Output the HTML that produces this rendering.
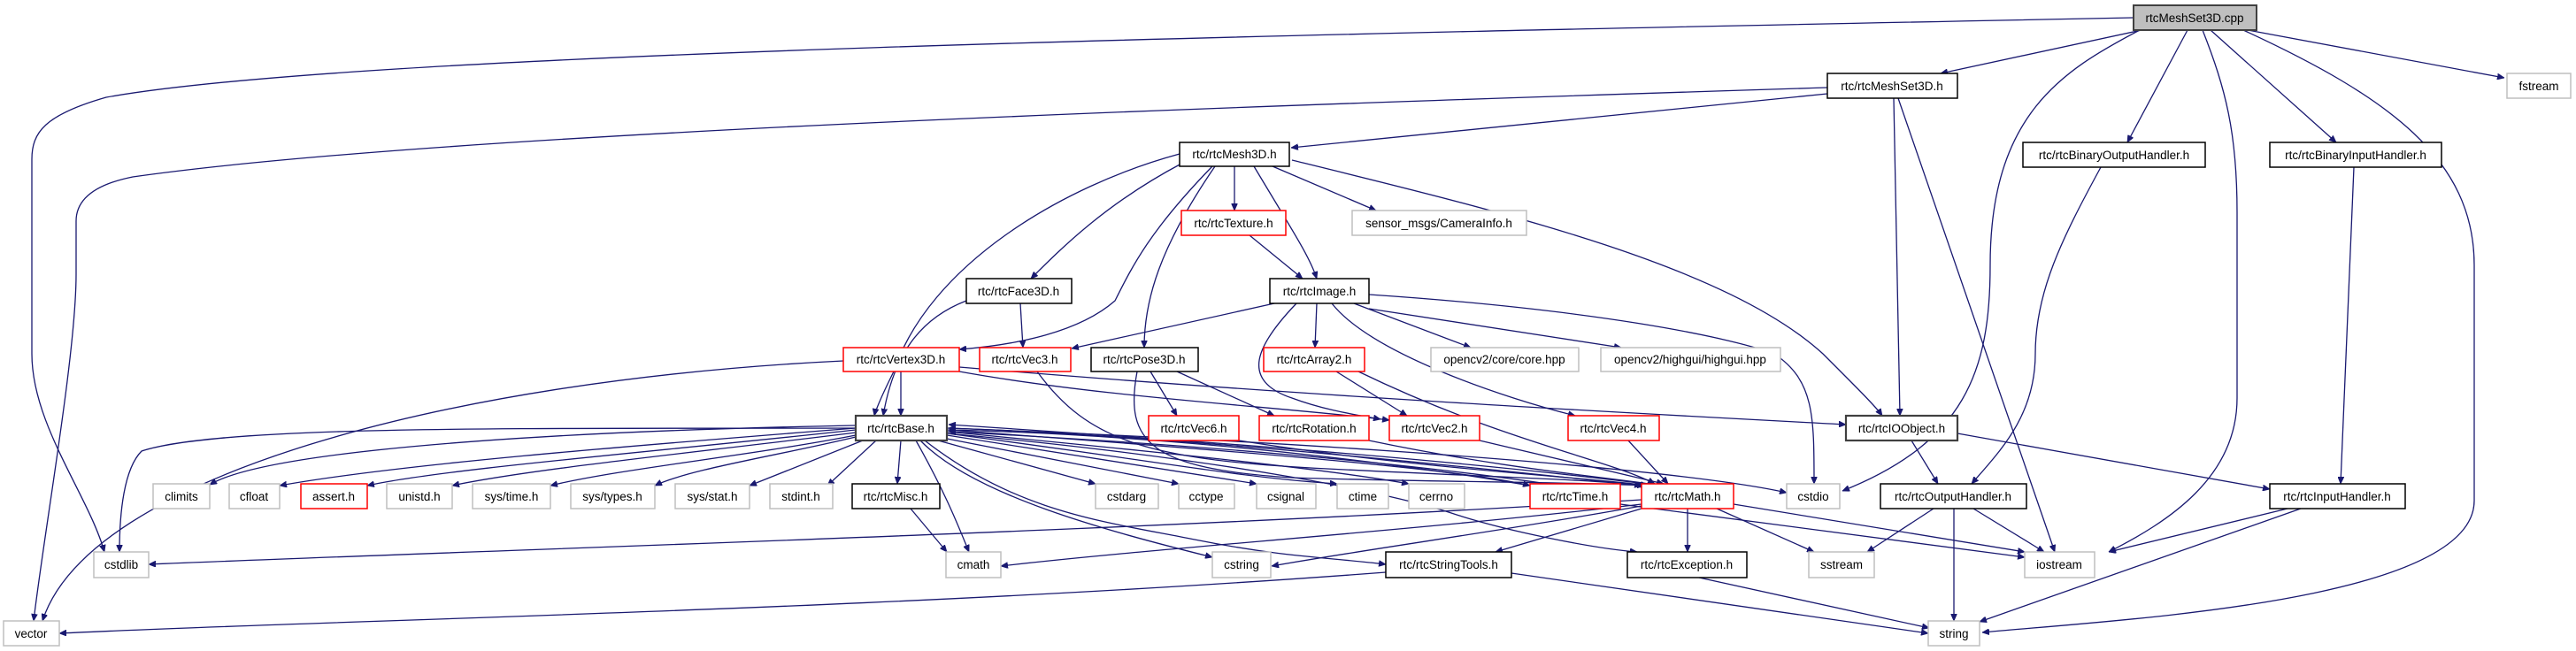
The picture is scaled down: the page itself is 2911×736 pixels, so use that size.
<!DOCTYPE html>
<html><head><meta charset="utf-8">
<style>
html,body{margin:0;padding:0;background:#fff;}
svg{display:block;}
text{font-family:"Liberation Sans",sans-serif;font-size:13.5px;text-anchor:middle;fill:#000;}
.n{fill:#fff;stroke:#000;stroke-width:1.5;}
.r{fill:#fff;stroke:#ff0000;stroke-width:1.5;}
.g{fill:#fff;stroke:#bfbfbf;stroke-width:1.5;}
.b{fill:#fff;stroke:#404040;stroke-width:2.2;}
.e{fill:none;stroke:#191970;stroke-width:1.3;marker-end:url(#a);}
</style></head><body>
<svg width="2911" height="736" viewBox="0 0 2911 736" xmlns="http://www.w3.org/2000/svg">
<defs><marker id="a" viewBox="0 0 10 10" refX="10" refY="5" markerWidth="8" markerHeight="7" markerUnits="userSpaceOnUse" orient="auto" preserveAspectRatio="none"><path d="M0,0L10,5L0,10z" fill="#191970" stroke="#191970"/></marker></defs>

<g>
<path class="e" d="M2411,20 C1400,40 400,60 120,110 C50,130 36,150 36,180 L36,400 C36,480 100,560 118,624"/>
<path class="e" d="M2420,34 L2193,83"/>
<path class="e" d="M2540,34 L2830,88"/>
<path class="e" d="M2472,34 L2404,161"/>
<path class="e" d="M2498,34 L2640,161"/>
<path class="e" d="M2418,34 C2330,80 2249,130 2249,300 C2249,420 2220,500 2082,555"/>
<path class="e" d="M2489,34 C2515,100 2528,150 2528,240 L2528,450 C2528,540 2450,590 2383,624"/>
<path class="e" d="M2535,34 C2700,110 2796,180 2796,300 L2796,566 C2796,680 2400,700 2240,715"/>
<path class="e" d="M2065,99 C1400,120 500,150 150,200 C100,210 86,230 86,250 L86,310 C86,400 50,600 38,702"/>
<path class="e" d="M2065,106 L1459,167"/>
<path class="e" d="M2140,111 L2147,470"/>
<path class="e" d="M2145,111 L2322,624"/>
<path class="e" d="M2374,189 C2330,270 2300,330 2300,400 C2300,470 2260,510 2228,547"/>
<path class="e" d="M2660,189 L2645,547"/>
<path class="e" d="M1395,188 L1395,238"/>
<path class="e" d="M1438,188 L1555,238"/>
<path class="e" d="M1417,188 C1460,260 1480,290 1488,315"/>
<path class="e" d="M1335,185 C1250,230 1200,280 1165,315"/>
<path class="e" d="M1333,174 C1200,210 1050,300 1010,420 C990,460 988,470 988,470"/>
<path class="e" d="M1370,188 C1300,260 1280,300 1260,340 C1220,375 1150,390 1084,395"/>
<path class="e" d="M1373,188 C1310,280 1293,340 1293,393"/>
<path class="e" d="M1460,181 C1700,240 1950,300 2060,400 C2100,440 2120,460 2127,470"/>
<path class="e" d="M1412,266 L1472,315"/>
<path class="e" d="M1092,340 C1040,360 1010,400 998,470"/>
<path class="e" d="M1153,343 L1156,393"/>
<path class="e" d="M1440,343 L1211,394"/>
<path class="e" d="M1488,343 L1486,393"/>
<path class="e" d="M1530,343 L1662,393"/>
<path class="e" d="M1547,349 L1832,393"/>
<path class="e" d="M1547,333 C1800,350 1950,380 2005,400 C2050,430 2050,470 2050,547"/>
<path class="e" d="M1465,343 C1420,390 1400,430 1460,450 C1500,465 1540,470 1560,474"/>
<path class="e" d="M1505,343 C1550,400 1700,450 1780,470"/>
<path class="e" d="M1018,420 L1018,470"/>
<path class="e" d="M953,408 C500,430 100,540 48,702"/>
<path class="e" d="M1084,420 C1250,450 1450,460 1570,475"/>
<path class="e" d="M1084,415 C1500,450 1900,470 2086,480"/>
<path class="e" d="M1172,420 C1230,500 1300,520 1500,530 C1700,540 1800,542 1855,549"/>
<path class="e" d="M1285,420 C1270,500 1300,530 1460,540 C1600,545 1800,545 1858,549"/>
<path class="e" d="M1300,420 L1330,470"/>
<path class="e" d="M1330,420 L1440,470"/>
<path class="e" d="M1510,420 L1590,470"/>
<path class="e" d="M1535,420 C1700,500 1820,520 1870,547"/>
<path class="e" d="M1400,498 C1600,530 1800,540 1862,549"/>
<path class="e" d="M1547,498 C1700,530 1820,540 1870,548"/>
<path class="e" d="M1672,498 L1880,547"/>
<path class="e" d="M1840,498 L1885,547"/>
<path class="e" d="M967,481 C600,488 300,510 237,548"/>
<path class="e" d="M967,484 C700,505 450,525 316,549"/>
<path class="e" d="M967,486 C750,510 500,530 415,549"/>
<path class="e" d="M967,489 C800,510 600,530 511,549"/>
<path class="e" d="M967,492 C850,515 700,530 622,549"/>
<path class="e" d="M967,494 C880,515 780,530 740,549"/>
<path class="e" d="M975,498 L847,549"/>
<path class="e" d="M990,498 L935,549"/>
<path class="e" d="M1018,498 L1014,547"/>
<path class="e" d="M967,484 C600,485 250,480 160,510 C140,530 135,580 135,624"/>
<path class="e" d="M1035,498 C1070,560 1085,600 1095,624"/>
<path class="e" d="M1040,498 C1100,560 1250,600 1370,630"/>
<path class="e" d="M1045,498 C1150,580 1250,590 1350,610 C1450,630 1500,630 1566,638"/>
<path class="e" d="M1060,498 L1238,547"/>
<path class="e" d="M1065,495 L1332,547"/>
<path class="e" d="M1070,492 L1420,547"/>
<path class="e" d="M1070,490 C1300,520 1400,540 1511,547"/>
<path class="e" d="M1070,488 C1300,510 1500,530 1592,547"/>
<path class="e" d="M1070,486 C1400,510 1650,530 1729,549"/>
<path class="e" d="M1070,484 C1500,500 1900,530 2019,557"/>
<path class="e" d="M1070,490 C1400,520 1580,560 1640,580 C1700,600 1800,620 1850,624"/>
<path class="e" d="M1855,549 C1500,510 1250,490 1072,484"/>
<path class="e" d="M1729,549 C1500,510 1250,490 1072,486"/>
<path class="e" d="M1860,547 C1600,515 1300,495 1072,480"/>
<path class="e" d="M1831,560 C1600,520 1300,500 1072,488"/>
<path class="e" d="M1029,575 L1070,624"/>
<path class="e" d="M1831,570 L2288,630"/>
<path class="e" d="M1855,565 C1300,600 600,620 168,638"/>
<path class="e" d="M1855,570 C1600,600 1300,620 1131,640"/>
<path class="e" d="M1855,572 C1700,600 1550,620 1437,640"/>
<path class="e" d="M1855,575 L1690,624"/>
<path class="e" d="M1907,575 L1907,624"/>
<path class="e" d="M1940,575 L2050,624"/>
<path class="e" d="M1959,570 L2288,624"/>
<path class="e" d="M1566,647 C1000,690 400,700 67,716"/>
<path class="e" d="M1708,648 L2179,716"/>
<path class="e" d="M1920,653 L2180,710"/>
<path class="e" d="M2160,498 L2190,547"/>
<path class="e" d="M2212,490 L2565,553"/>
<path class="e" d="M2185,575 L2110,624"/>
<path class="e" d="M2208,575 L2208,702"/>
<path class="e" d="M2230,575 L2310,624"/>
<path class="e" d="M2585,575 L2383,624"/>
<path class="e" d="M2600,575 L2237,703"/>
</g>

<g>
<rect x="2411" y="6" width="139" height="28" fill="#bfbfbf" stroke="#404040" stroke-width="2"/><text x="2480" y="25">rtcMeshSet3D.cpp</text>
<rect class="n" x="2065" y="83" width="147" height="28"/><text x="2138" y="102">rtc/rtcMeshSet3D.h</text>
<rect class="g" x="2833" y="83" width="72" height="28"/><text x="2869" y="102">fstream</text>
<rect class="n" x="1333" y="161" width="124" height="27"/><text x="1395" y="179">rtc/rtcMesh3D.h</text>
<rect class="n" x="2286" y="161" width="206" height="28"/><text x="2389" y="180">rtc/rtcBinaryOutputHandler.h</text>
<rect class="n" x="2565" y="161" width="194" height="28"/><text x="2662" y="180">rtc/rtcBinaryInputHandler.h</text>
<rect class="r" x="1335" y="238" width="118" height="28"/><text x="1394" y="257">rtc/rtcTexture.h</text>
<rect class="g" x="1528" y="238" width="197" height="28"/><text x="1626" y="257">sensor_msgs/CameraInfo.h</text>
<rect class="n" x="1092" y="315" width="119" height="28"/><text x="1151" y="334">rtc/rtcFace3D.h</text>
<rect class="n" x="1435" y="315" width="112" height="28"/><text x="1491" y="334">rtc/rtcImage.h</text>
<rect class="r" x="953" y="393" width="131" height="27"/><text x="1018" y="411">rtc/rtcVertex3D.h</text>
<rect class="r" x="1107" y="393" width="103" height="27"/><text x="1158" y="411">rtc/rtcVec3.h</text>
<rect class="n" x="1233" y="393" width="121" height="27"/><text x="1293" y="411">rtc/rtcPose3D.h</text>
<rect class="r" x="1428" y="393" width="114" height="27"/><text x="1485" y="411">rtc/rtcArray2.h</text>
<rect class="g" x="1617" y="393" width="167" height="27"/><text x="1700" y="411">opencv2/core/core.hpp</text>
<rect class="g" x="1809" y="393" width="203" height="27"/><text x="1910" y="411">opencv2/highgui/highgui.hpp</text>
<rect class="b" x="967" y="470" width="103" height="28"/><text x="1018" y="489">rtc/rtcBase.h</text>
<rect class="r" x="1298" y="470" width="102" height="28"/><text x="1349" y="489">rtc/rtcVec6.h</text>
<rect class="r" x="1423" y="470" width="124" height="28"/><text x="1485" y="489">rtc/rtcRotation.h</text>
<rect class="r" x="1570" y="470" width="102" height="28"/><text x="1621" y="489">rtc/rtcVec2.h</text>
<rect class="r" x="1772" y="470" width="103" height="28"/><text x="1823" y="489">rtc/rtcVec4.h</text>
<rect class="b" x="2086" y="470" width="126" height="28"/><text x="2149" y="489">rtc/rtcIOObject.h</text>
<rect class="g" x="173" y="547" width="64" height="28"/><text x="205" y="566">climits</text>
<rect class="g" x="259" y="547" width="57" height="28"/><text x="287" y="566">cfloat</text>
<rect class="r" x="340" y="547" width="75" height="28"/><text x="377" y="566">assert.h</text>
<rect class="g" x="437" y="547" width="74" height="28"/><text x="474" y="566">unistd.h</text>
<rect class="g" x="534" y="547" width="88" height="28"/><text x="578" y="566">sys/time.h</text>
<rect class="g" x="645" y="547" width="95" height="28"/><text x="692" y="566">sys/types.h</text>
<rect class="g" x="763" y="547" width="84" height="28"/><text x="805" y="566">sys/stat.h</text>
<rect class="g" x="870" y="547" width="71" height="28"/><text x="905" y="566">stdint.h</text>
<rect class="n" x="963" y="547" width="99" height="28"/><text x="1012" y="566">rtc/rtcMisc.h</text>
<rect class="g" x="1238" y="547" width="71" height="28"/><text x="1273" y="566">cstdarg</text>
<rect class="g" x="1332" y="547" width="63" height="28"/><text x="1363" y="566">cctype</text>
<rect class="g" x="1420" y="547" width="67" height="28"/><text x="1453" y="566">csignal</text>
<rect class="g" x="1511" y="547" width="58" height="28"/><text x="1540" y="566">ctime</text>
<rect class="g" x="1592" y="547" width="63" height="28"/><text x="1623" y="566">cerrno</text>
<rect class="r" x="1729" y="547" width="102" height="28"/><text x="1780" y="566">rtc/rtcTime.h</text>
<rect class="r" x="1855" y="547" width="104" height="28"/><text x="1907" y="566">rtc/rtcMath.h</text>
<rect class="g" x="2019" y="547" width="60" height="28"/><text x="2049" y="566">cstdio</text>
<rect class="n" x="2125" y="547" width="165" height="28"/><text x="2207" y="566">rtc/rtcOutputHandler.h</text>
<rect class="n" x="2565" y="547" width="153" height="28"/><text x="2641" y="566">rtc/rtcInputHandler.h</text>
<rect class="g" x="106" y="624" width="62" height="29"/><text x="137" y="643">cstdlib</text>
<rect class="g" x="1069" y="624" width="62" height="29"/><text x="1100" y="643">cmath</text>
<rect class="g" x="1370" y="624" width="66" height="29"/><text x="1403" y="643">cstring</text>
<rect class="n" x="1566" y="624" width="142" height="29"/><text x="1637" y="643">rtc/rtcStringTools.h</text>
<rect class="n" x="1839" y="624" width="135" height="29"/><text x="1906" y="643">rtc/rtcException.h</text>
<rect class="g" x="2044" y="624" width="74" height="29"/><text x="2081" y="643">sstream</text>
<rect class="g" x="2288" y="624" width="79" height="29"/><text x="2327" y="643">iostream</text>
<rect class="g" x="4" y="702" width="63" height="28"/><text x="35" y="721">vector</text>
<rect class="g" x="2179" y="702" width="58" height="28"/><text x="2208" y="721">string</text>
</g>
</svg>
</body></html>
